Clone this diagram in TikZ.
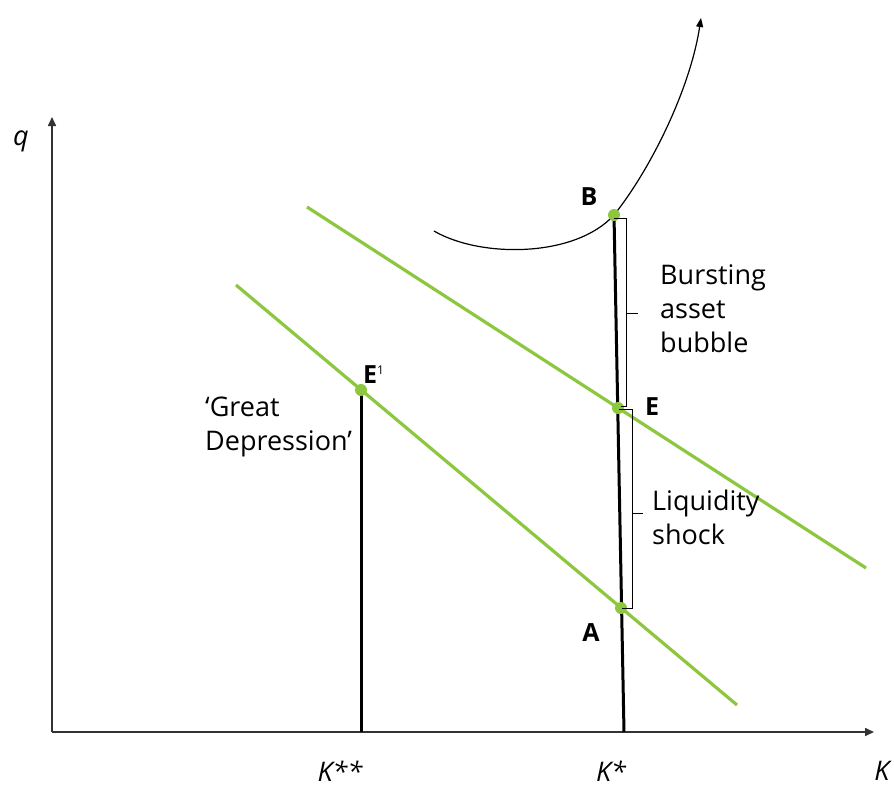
\documentclass[tikz,border=0pt]{standalone}
\usepackage{fontspec}
\setsansfont{Open Sans}
\usepackage{xcolor}
\usetikzlibrary{positioning, arrows.meta, calc}
\definecolor{schedgreen}{RGB}{141,198,63}

\begin{document}
\begin{tikzpicture}[
						x=1pt, y=-1pt,
						axis/.style={draw=black!80, line width=1.6pt, -{Triangle[length=9pt, width=8pt]}},
						schedule/.style={draw=schedgreen, line width=3.2pt},
						capline/.style={draw=black, line width=3pt},
						bubble/.style={draw=black, line width=1.2pt, -{Triangle[length=9pt, width=7pt]}},
						bracket/.style={draw=black, line width=1pt},
						dot/.style={circle, fill=schedgreen, inner sep=0pt, minimum size=12pt},
						ptlabel/.style={font=\sffamily\bfseries\fontsize{25}{30}\selectfont, inner sep=0pt},
						axlabel/.style={font=\sffamily\itshape\fontsize{27}{32}\selectfont, inner sep=0pt},
						note/.style={font=\sffamily\fontsize{27}{34}\selectfont, align=left, anchor=north west, inner sep=0pt}
						]
						\useasboundingbox (0,0) rectangle (894,790);
						
						% axes
						\coordinate (origin) at (52,732);
						\coordinate (qtip) at (52,117);
						\coordinate (Ktip) at (874,732);
						\draw [axis] (origin) -- (qtip);
						\draw [axis] (origin) -- (Ktip);
						\node [axlabel] (qlab) at (21,141) {q};
						\node [axlabel] (Klab) at (882,771) {K};
						\node [axlabel] (Kstarlab) at (611,771) {K*};
						\node [axlabel] (Kstarstarlab) at (340,771) {K**};
						
						% equilibrium points
						\coordinate (pB) at (614,215);
						\coordinate (pE) at (618,408);
						\coordinate (pA) at (621,608);
						\coordinate (pE1) at (361,390);
						\coordinate (Kstar) at (624,732);
						\coordinate (Kstarstar) at (361,732);
						
						% green schedules
						\coordinate (up_start) at (307,207);
						\coordinate (up_end) at (866,568);
						\coordinate (lo_start) at (236,285);
						\coordinate (lo_end) at (737,705);
						\draw [schedule] (up_start) -- (up_end);
						\draw [schedule] (lo_start) -- (lo_end);
						
						% capital stock lines
						\draw [capline] (pB) -- (Kstar);
						\draw [capline] (pE1) -- (Kstarstar);
						
						% bubble curve
						\coordinate (bub_start) at (434,231);
						\coordinate (bub_end) at (701,18);
						\draw [bubble] (bub_start) .. controls (480,258) and (575,258) .. (pB)
						.. controls (650,170) and (690,90) .. (bub_end);
						
						\node [dot] (B) at (pB) {};
						\node [dot] (E) at (pE) {};
						\node [dot] (A) at (pA) {};
						\node [dot] (E1) at (pE1) {};
						
						% brackets
						\draw [bracket] ($(B)+(0,3)$) -- (626,218) -- (626,406) -- ($(E)+(3,-2)$);
						\draw [bracket] (626,313) -- (638,313);
						\draw [bracket] ($(E)+(1,1)$) -- (632,409) -- (632,608) -- ($(A)+(1,0)$);
						\draw [bracket] (632,513) -- (643,513);
						
						% labels
						\node [ptlabel] (Blab) at (589,197) {B};
						\node [ptlabel] (Elab) at (652,407) {E};
						\node [ptlabel] (Alab) at (591,633) {A};
						\node [ptlabel, anchor=west] (E1lab) at (363,375) {E\textsuperscript{\mdseries\fontsize{12}{12}\selectfont 1}};
						\node [note] (bubblenote) at (660,264) {Bursting\\asset\\bubble};
						\node [note] (shocknote) at (652,490) {Liquidity\\shock};
						\node [note] (depressionnote) at (205,397) {`Great\\Depression'};
					\end{tikzpicture}
\end{document}
